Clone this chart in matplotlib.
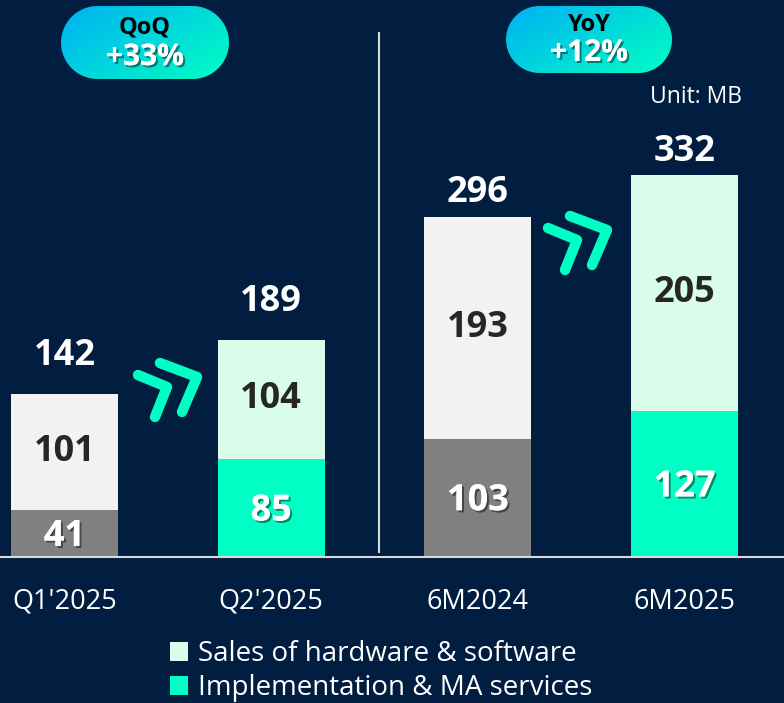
import matplotlib.pyplot as plt
import matplotlib.patheffects as pe
import numpy as np
from matplotlib.colors import LinearSegmentedColormap
from matplotlib.patches import Patch, Polygon

# data
periods = ["Q1'2025", "Q2'2025", "6M2024", "6M2025"]
services = [41, 85, 103, 127]          # Implementation & MA services
hardware = [101, 104, 193, 205]        # Sales of hardware & software
totals = [142, 189, 296, 332]
badges = [("QoQ", "+33%"), ("YoY", "+12%")]

BG = '#011d40'
MINT = '#00ffc5'
LIGHT_MINT = '#d9fdea'
GRAY = '#808080'
LIGHT_GRAY = '#f2f2f2'
DARK_TXT = '#262626'

plt.rcParams['font.family'] = ['Open Sans', 'DejaVu Sans']

W, H = 784, 703
BASE = 557  # baseline, pixels from top
fig = plt.figure(figsize=(W / 100, H / 100), dpi=100, facecolor=BG)

ax = fig.add_axes([0, (H - BASE) / H, 1, BASE / H])
ax.set_facecolor(BG)
x = np.arange(len(periods))
ax.set_xlim(-0.312, 3.481)
ax.set_ylim(0, BASE / 1.15)
for s in ax.spines.values():
    s.set_visible(False)
ax.set_yticks([])
ax.set_xticks(x)
ax.set_xticklabels(periods, color='white', fontsize=19.5)
ax.tick_params(axis='x', length=0, pad=22)

low_colors = [GRAY, MINT, GRAY, MINT]
top_colors = [LIGHT_GRAY, LIGHT_MINT, LIGHT_GRAY, LIGHT_MINT]
width = 0.518
ax.bar(x, services, width, color=low_colors, zorder=2)
ax.bar(x, hardware, width, bottom=services, color=top_colors, zorder=2)

shadow = [pe.withSimplePatchShadow(offset=(1.5, -1.5), shadow_rgbFace='black', alpha=0.45),
          pe.Normal()]
for i in range(len(periods)):
    ax.text(x[i], services[i] / 2 - 3, str(services[i]), ha='center', va='center',
            fontsize=26, fontweight='bold', color='white', path_effects=shadow, zorder=3)
    ax.text(x[i], services[i] + hardware[i] / 2, str(hardware[i]), ha='center', va='center',
            fontsize=26, fontweight='bold', color=DARK_TXT, zorder=3)
    off = 27 if i < 2 else 17
    ax.annotate(str(totals[i]), (x[i], totals[i]), xytext=(0, off), textcoords='offset points',
                ha='center', va='center', fontsize=26, fontweight='bold', color='white')

# overlay in pixel coords for decorations
ov = fig.add_axes([0, 0, 1, 1], zorder=5)
ov.set_xlim(0, W)
ov.set_ylim(H, 0)
ov.axis('off')
ov.patch.set_alpha(0)

ov.plot([0, W], [BASE, BASE], color='#d9d9d9', lw=1.5)
ov.plot([379, 379], [33, 552], color='#d9d9d9', lw=1.5)


def pill_shape(px, py, pw, ph):
    r = ph / 2
    t = np.linspace(-np.pi / 2, np.pi / 2, 40)
    right = np.column_stack([px + pw - r + r * np.cos(t), py + r + r * np.sin(t)])
    left = np.column_stack([px + r - r * np.cos(t), py + r - r * np.sin(t)])
    return np.vstack([right, left])


grad = LinearSegmentedColormap.from_list('pill', ['#00b0f3', '#00ffc3'])
pills = [(61, 6, 168, 73), (506, 6, 166, 67)]
for (px, py, pw, ph), (lab, pct) in zip(pills, badges):
    box = Polygon(pill_shape(px, py, pw, ph), closed=True, facecolor='none', edgecolor='none')
    ov.add_patch(box)
    gx, gy = np.meshgrid(np.linspace(0, 1, 100), np.linspace(0, 1, 50))
    img = ov.imshow(gx * 0.6 + gy * 0.4, cmap=grad, extent=(px, px + pw, py + ph, py),
                    aspect='auto', origin='upper', zorder=1)
    img.set_clip_path(box)
    cx = px + pw / 2
    ov.text(cx, py + ph * 0.29, lab, ha='center', va='center', fontsize=17,
            fontweight='bold', color='black', zorder=2)
    ov.text(cx, py + ph * 0.70, pct, ha='center', va='center', fontsize=21.5,
            fontweight='bold', color='white', path_effects=shadow, zorder=2)
ov.set_xlim(0, W)
ov.set_ylim(H, 0)

ov.text(742, 97, 'Unit: MB', ha='right', va='center', fontsize=16.5, color='white')

# chevrons
for dx, dy in [(0, 0), (410, -147)]:
    for pts in [[(138, 375), (167, 387), (155, 417)], [(160, 363), (197, 377), (182, 412)]]:
        xs = [p[0] + dx for p in pts]
        ys = [p[1] + dy for p in pts]
        ov.plot(xs, ys, color=MINT, lw=7.5, solid_capstyle='round', solid_joinstyle='round')

handles = [Patch(facecolor=LIGHT_MINT, label='Sales of hardware & software'),
           Patch(facecolor=MINT, label='Implementation & MA services')]
fig.legend(handles=handles, loc='upper left', bbox_to_anchor=(159 / W, 1 - 629 / H),
           frameon=False, fontsize=20, labelcolor='white', handlelength=0.65,
           handleheight=0.65, handletextpad=0.35, labelspacing=0.22, borderaxespad=0)

fig.savefig('out.png', facecolor=BG)
